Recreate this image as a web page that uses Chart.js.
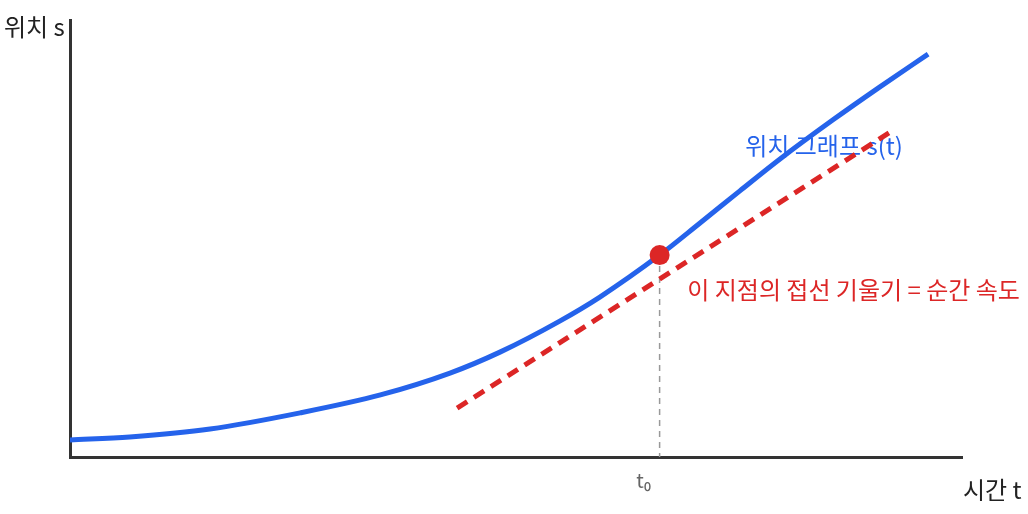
<!DOCTYPE html>
<html>
<head>
<meta charset="utf-8">
<script src="https://cdn.jsdelivr.net/npm/chart.js@4.4.1/dist/chart.umd.min.js"></script>
<style>
  html, body { margin: 0; padding: 0; background: #fff; }
  #wrap { width: 1028px; height: 514px; }
</style>
</head>
<body>
<div id="wrap"><canvas id="chart"></canvas></div>
<script>
// position curve s(t)
const curveT = [0, 0.67, 1.57, 2.58, 3.48, 4.26, 4.82, 5.49, 5.94, 6.61, 7.06, 7.51, 7.96, 8.55, 9.08, 9.62];
const curveS = [0.39, 0.46, 0.64, 1.01, 1.42, 1.92, 2.4, 3.11, 3.66, 4.62, 5.35, 6.09, 6.82, 7.71, 8.47, 9.22];

// the marked instant and its tangent
const pointT = [6.61];
const pointS = [4.62];
const tangentT = [4.34, 9.23];
const tangentS = [1.12, 7.48];

const yTitle = "위치 s";
const xTitle = "시간 t";
const curveLabel = "위치 그래프 s(t)";
const tangentLabel = "이 지점의 접선 기울기 = 순간 속도";
const t0Label = "t₀";

const BLUE = "#2563eb";
const RED = "#dc2626";
const FONT = '"Noto Sans CJK KR", "Noto Sans", sans-serif';

const zip = (xs, ys) => xs.map((x, i) => ({ x, y: ys[i] }));

/* texts sit under the lines, like in the reference */
const labelsPlugin = {
  id: "labels",
  beforeDatasetsDraw(chart) {
    const { ctx, chartArea, scales } = chart;
    const x = scales.x, y = scales.y;
    ctx.save();
    ctx.textBaseline = "middle";
    ctx.textAlign = "left";

    ctx.font = "24px " + FONT;
    ctx.fillStyle = "#222";
    ctx.fillText(yTitle, 4, 27);
    ctx.fillText(xTitle, chartArea.right + 1, 490);

    ctx.fillStyle = BLUE;
    ctx.fillText(curveLabel, x.getPixelForValue(7.57), y.getPixelForValue(7.12));

    ctx.fillStyle = RED;
    ctx.fillText(tangentLabel, x.getPixelForValue(6.92), y.getPixelForValue(3.82));

    ctx.font = "20px " + FONT;
    ctx.fillStyle = "#666";
    ctx.textAlign = "center";
    ctx.fillText(t0Label, x.getPixelForValue(pointT[0]) - 16, chartArea.bottom + 23);
    ctx.restore();
  }
};

new Chart(document.getElementById("chart"), {
  type: "line",
  data: {
    datasets: [
      {
        label: "t0",
        data: zip(pointT, pointS),
        showLine: false,
        pointRadius: 10,
        pointBackgroundColor: RED,
        pointBorderWidth: 0
      },
      {
        label: "tangent",
        data: zip(tangentT, tangentS),
        borderColor: RED,
        borderWidth: 5,
        borderDash: [12, 8],
        pointRadius: 0
      },
      {
        label: "s(t)",
        data: zip(curveT, curveS),
        borderColor: BLUE,
        borderWidth: 5,
        cubicInterpolationMode: "monotone",
        pointRadius: 0
      },
      {
        label: "drop",
        data: zip([pointT[0], pointT[0]], [pointS[0], 0]),
        borderColor: "#999",
        borderWidth: 1.5,
        borderDash: [6, 5],
        pointRadius: 0
      }
    ]
  },
  options: {
    responsive: true,
    maintainAspectRatio: false,
    animation: false,
    layout: { padding: { left: 70, right: 66, top: 20, bottom: 57 } },
    plugins: {
      legend: { display: false },
      tooltip: { enabled: false }
    },
    scales: {
      x: {
        type: "linear",
        min: 0,
        max: 10,
        grid: { display: false, drawTicks: false },
        ticks: { display: false },
        border: { display: true, width: 3, color: "#333" }
      },
      y: {
        min: 0,
        max: 10,
        grid: { display: false, drawTicks: false },
        ticks: { display: false },
        border: { display: true, width: 3, color: "#333" }
      }
    }
  },
  plugins: [labelsPlugin]
});
</script>
</body>
</html>
